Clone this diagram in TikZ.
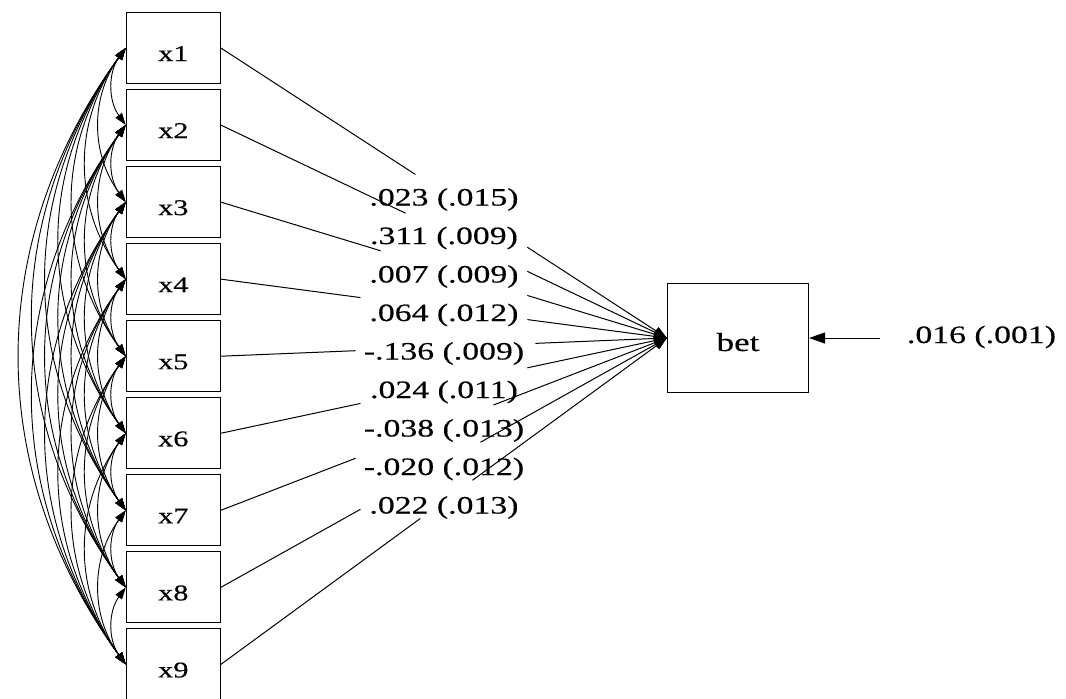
\documentclass[tikz,border=0pt]{standalone}
\usepackage{fontspec}
\setmainfont[FakeStretch=1.35,FakeBold=0.4]{Liberation Serif}
\usetikzlibrary{arrows.meta,calc}
\begin{document}
\begin{tikzpicture}[x=1pt,y=-1pt,
  varbox/.style={draw,line width=1.1pt,minimum width=94pt,minimum height=71pt,inner sep=0pt,
    font=\fontsize{22.5}{22.5}\selectfont,text height=26pt,text depth=0pt},
  betbox/.style={draw,line width=1.1pt,minimum width=141pt,minimum height=109pt,inner sep=0pt,
    font=\fontsize{26}{26}\selectfont,text height=26pt,text depth=0pt},
  est/.style={inner sep=0pt,anchor=base,font=\fontsize{25}{25}\selectfont},
  cov/.style={line width=0.9pt,{Triangle[length=12pt,width=8pt]}-{Triangle[length=12pt,width=8pt]}},
  reg/.style={line width=1pt},
  reghead/.style={line width=1pt,-{Triangle[length=13pt,width=9pt]}}
]
\useasboundingbox (0,0) rectangle (1066,699);
\foreach \i in {1,...,9} {
  \node[varbox] (x\i) at (173.3,{48+77.05*(\i-1)}) {x\i};
}
\node[betbox] (bet) at (738,338) {bet};
% covariances
\foreach \i in {1,...,8} {
  \pgfmathtruncatemacro\s{\i+1}
  \foreach \j in {\s,...,9} {
    \draw[cov] (x\i.west) to[bend right=36] (x\j.west);
  }
}
% regression paths with gaps
\foreach \i/\a/\b in {1/0.436/0.687,2/0.414/0.687,3/0.358/0.687,4/0.313/0.687,5/0.302/0.705,
                      6/0.313/0.687,7/0.302/0.611,8/0.313/0.582,9/0.447/0.564} {
  \draw[reg] (x\i.east) -- ($(x\i.east)!\a!(bet.west)$);
  \draw[reghead] ($(x\i.east)!\b!(bet.west)$) -- (bet.west);
}
% estimates
\foreach \i/\t in {1/{.023 (.015)},2/{.311 (.009)},3/{.007 (.009)},4/{.064 (.012)},5/{-.136 (.009)},
                   6/{.024 (.011)},7/{-.038 (.013)},8/{-.020 (.012)},9/{.022 (.013)}} {
  \node[est] (l\i) at (444,{205.5+38.5*(\i-1)}) {\t};
}
% error variance
\coordinate (e) at (880,338);
\draw[line width=1pt,-{Triangle[length=16pt,width=11pt]}] (e) -- (bet.east);
\node[est] (ev) at (981.5,343) {.016 (.001)};
\end{tikzpicture}
\end{document}
